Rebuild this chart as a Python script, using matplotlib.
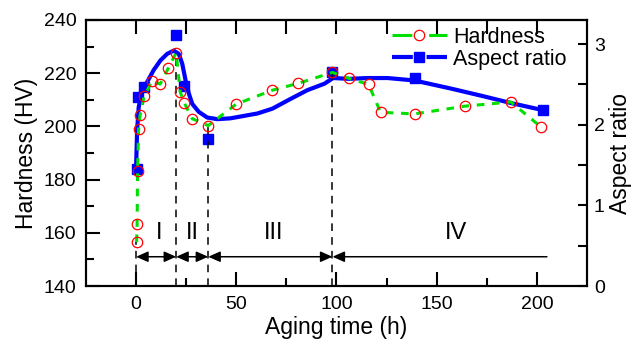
import matplotlib
matplotlib.use('Agg')
import matplotlib.pyplot as plt
from matplotlib.lines import Line2D

plt.rcParams['font.family'] = ['Liberation Sans', 'DejaVu Sans']

# hardness (left axis)
hv_time = [0.25, 0.5, 0.75, 1.25, 2, 4, 8, 12, 16, 20, 22, 24, 28, 36,
           50, 68, 81, 98, 106, 116, 122, 139, 164, 187, 202]
hv_value = [156.5, 163.3, 183.4, 199.0, 204.2, 211.3, 217.1, 215.9, 221.8, 227.7,
            213.0, 208.9, 202.9, 200.3, 208.4, 213.6, 216.2, 220.3, 218.1, 215.8,
            205.3, 204.7, 207.6, 209.2, 199.8]

# aspect ratio (right axis), measured points
ar_time = [0.5, 1, 4, 20, 24, 36, 98, 139, 203]
ar_value = [1.45, 2.34, 2.47, 3.12, 2.48, 1.82, 2.65, 2.58, 2.18]

# aspect ratio fitted curve
fit_time = [0, 0.5, 1.3, 3, 5.5, 8.8, 12.2, 15.5, 18.8, 21.3, 23, 24.7, 26.3, 28,
            31.3, 35.5, 40.5, 47, 60.5, 68, 77, 85.5, 94, 98.3, 106.3, 115.5,
            125.5, 138.8, 157, 174, 187, 203.3]
fit_value = [1.48, 1.93, 2.22, 2.41, 2.53, 2.68, 2.80, 2.88, 2.92, 2.88, 2.76, 2.55,
             2.39, 2.26, 2.16, 2.09, 2.07, 2.08, 2.14, 2.20, 2.32, 2.43, 2.51, 2.58,
             2.57, 2.58, 2.58, 2.55, 2.45, 2.35, 2.27, 2.18]

# stage boundaries (time, hardness where the dashed line starts)
bound_time = [0, 20, 36, 98]
bound_hv = [156.5, 227.7, 200.3, 220.3]
arrow_end = 205
arrow_hv = 151
stage_labels = ['I', 'II', 'III', 'IV']
stage_x = [11.7, 28, 68.8, 159.7]

green = '#00e000'
blue = '#0000ff'
red = '#ff0000'

fig = plt.figure(figsize=(6.37, 3.49), dpi=100)
ax = fig.add_axes([0.135, 0.1805, 0.7865, 0.7622])
ax2 = ax.twinx()
ax.set_zorder(ax2.get_zorder() + 1)
ax.patch.set_visible(False)

ax2.plot(fit_time, fit_value, color=blue, lw=3, solid_capstyle='round')
ax2.plot(ar_time, ar_value, ls='none', marker='s', ms=6.5, color=blue)

ax.plot(hv_time, hv_value, color=green, lw=2.2, dashes=(2.5, 2.5))
ax.plot(hv_time, hv_value, ls='none', marker='o', ms=7.5, mfc='none', mec=red, mew=0.9)

for t, h in zip(bound_time, bound_hv):
    ax.plot([t, t], [140, h], color='black', lw=1.1, dashes=(5, 4), zorder=1)

ends = bound_time + [arrow_end]
for i in range(4):
    style = '<|-|>' if i < 3 else '<|-'
    ax.annotate('', xy=(ends[i + 1], arrow_hv), xytext=(ends[i], arrow_hv),
                arrowprops=dict(arrowstyle=style + ',head_length=0.45,head_width=0.2',
                                color='black', lw=1.1, shrinkA=0, shrinkB=0,
                                mutation_scale=16))
    ax.text(stage_x[i], 160, stage_labels[i], fontsize=17, ha='center', va='center')

ax.set_xlim(-25, 225)
ax.set_ylim(140, 240)
ax2.set_ylim(0, 3.3)

ax.set_xticks([0, 50, 100, 150, 200])
ax.set_xticks([25, 75, 125, 175], minor=True)
ax.set_yticks(range(140, 241, 20))
ax.set_yticks(range(150, 240, 20), minor=True)
ax2.set_yticks([0, 1, 2, 3])
ax2.set_yticks([0.5, 1.5, 2.5], minor=True)

ax.tick_params(which='both', direction='in', width=1.5, labelsize=14, pad=7)
ax.tick_params(which='major', length=10)
ax.tick_params(which='minor', length=6)
ax.tick_params(axis='y', right=False)
ax2.tick_params(which='both', direction='in', width=1.5, length=6.5, labelsize=14, pad=5)

top = ax.secondary_xaxis('top')
top.set_xticks(range(0, 201, 25))
top.tick_params(direction='in', length=10, width=1.5, labeltop=False)
top.spines['top'].set_linewidth(1.5)

for a in (ax, ax2):
    for s in a.spines.values():
        s.set_linewidth(1.5)

ax.set_xlabel('Aging time (h)', fontsize=16.5, labelpad=2)
ax.set_ylabel('Hardness (HV)', fontsize=16.5, labelpad=4)
ax2.set_ylabel('Aspect ratio', fontsize=16.5, labelpad=3)

h1 = Line2D([], [], color=green, lw=2.2, dashes=(6.5, 5.5), marker='o', ms=7.5,
            mfc='none', mec=red, mew=0.9)
h2 = Line2D([], [], color=blue, lw=3, dashes=(5, 3.3), marker='s', ms=6.5)
ax.legend([h1, h2], ['Hardness', 'Aspect ratio'], loc='upper left',
          bbox_to_anchor=(0.61, 0.975), frameon=False, fontsize=15.5,
          handlelength=2.55, handletextpad=0.3, labelspacing=0.05,
          borderpad=0, borderaxespad=0, numpoints=1)

fig.savefig('out.png', dpi=100)
